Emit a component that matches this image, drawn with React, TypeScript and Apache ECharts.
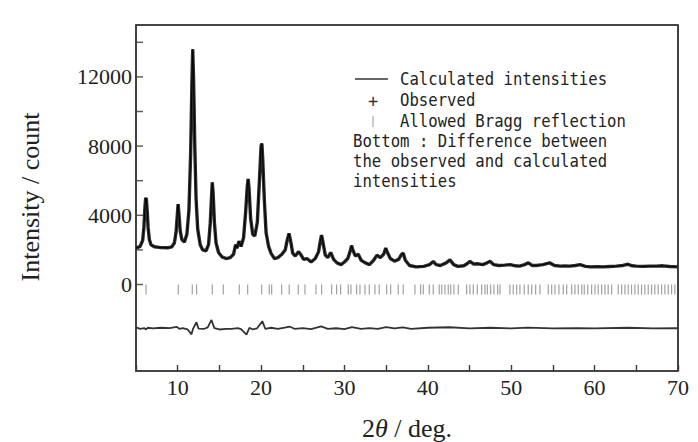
import React, { useEffect, useRef } from "react";
import * as echarts from "echarts";

// Observed intensity profile [2θ (deg), intensity (count)]
const observed: [number, number][] = [
  [5.0, 2100], [5.5, 2200], [5.8, 2550], [5.95, 3300], [6.05, 4300], [6.15, 4950], [6.2, 5000],
  [6.25, 4900], [6.35, 4200], [6.45, 3300], [6.6, 2600], [6.8, 2300], [7.2, 2180], [8.0, 2130],
  [8.8, 2120], [9.3, 2180], [9.6, 2400], [9.8, 3000], [9.95, 4000], [10.05, 4650], [10.15, 4100],
  [10.3, 3100], [10.5, 2600], [10.8, 2450], [11.1, 2900], [11.35, 4300], [11.55, 7500], [11.7, 11500],
  [11.8, 13600], [11.9, 12000], [12.05, 8000], [12.2, 5000], [12.4, 3200], [12.7, 2300], [13.0, 2000],
  [13.4, 1950], [13.7, 2300], [13.9, 3500], [14.05, 5000], [14.15, 5900], [14.25, 5300], [14.4, 3600],
  [14.6, 2400], [14.9, 1850], [15.3, 1600], [15.8, 1500], [16.3, 1550], [16.7, 1750], [16.95, 2300],
  [17.1, 2100], [17.35, 2500], [17.6, 2200], [17.9, 2700], [18.15, 4200], [18.35, 5700], [18.45, 6100],
  [18.55, 5600], [18.75, 3800], [19.0, 2900], [19.25, 2800], [19.55, 3600], [19.8, 6000], [20.0, 8000],
  [20.1, 8150], [20.2, 7200], [20.4, 4800], [20.6, 3000], [20.9, 2200], [21.2, 1800], [21.6, 1500],
  [22.0, 1550], [22.5, 1750], [22.9, 2000], [23.15, 2600], [23.35, 2950], [23.55, 2500], [23.8, 1800],
  [24.1, 1650], [24.5, 1900], [24.8, 1700], [25.1, 1450], [25.5, 1500], [26.0, 1300], [26.5, 1500],
  [26.9, 1900], [27.1, 2500], [27.25, 2850], [27.4, 2500], [27.7, 1700], [28.0, 1550], [28.35, 1850],
  [28.7, 1450], [29.1, 1250], [29.6, 1150], [30.0, 1300], [30.4, 1500], [30.7, 1950], [30.85, 2250],
  [31.0, 2000], [31.3, 1650], [31.65, 1750], [32.0, 1400], [32.5, 1250], [33.0, 1150], [33.5, 1400],
  [33.9, 1700], [34.3, 1550], [34.7, 1750], [34.95, 2100], [35.15, 1850], [35.5, 1500], [36.0, 1350],
  [36.5, 1450], [36.85, 1750], [37.05, 1800], [37.3, 1400], [37.8, 1100], [38.6, 1020], [39.5, 1050],
  [40.2, 1150], [40.65, 1330], [41.0, 1150], [41.5, 1100], [42.2, 1250], [42.65, 1420], [43.1, 1150],
  [43.6, 1050], [44.3, 1080], [44.7, 1200], [45.05, 1340], [45.5, 1180], [45.9, 1200], [46.6, 1150],
  [47.1, 1250], [47.45, 1340], [47.9, 1150], [48.5, 1100], [49.2, 1120], [49.9, 1150], [50.5, 1080],
  [51.0, 1060], [51.6, 1150], [52.05, 1250], [52.5, 1100], [53.0, 1100], [53.8, 1150], [54.6, 1250],
  [55.2, 1100], [55.9, 1060], [56.5, 1070], [57.0, 1060], [57.7, 1100], [58.25, 1150], [58.9, 1050],
  [59.5, 1020], [60.3, 1030], [61.0, 1020], [61.8, 1040], [62.6, 1060], [63.4, 1100], [64.0, 1170],
  [64.5, 1080], [65.0, 1060], [65.8, 1050], [66.6, 1060], [67.4, 1060], [68.2, 1080], [69.0, 1040],
  [70.0, 1020],
];

// Difference curve (observed - calculated), drawn with an offset below zero
const difference: [number, number][] = [
  [5.0, -2480], [5.5, -2560], [6.0, -2520], [6.2, -2600], [6.4, -2500], [7.0, -2540], [8.0, -2500],
  [9.0, -2520], [9.9, -2450], [10.2, -2560], [10.6, -2520], [11.2, -2600], [11.65, -2880], [11.85, -2550],
  [12.25, -2180], [12.5, -2550], [13.2, -2560], [13.6, -2480], [14.05, -2050], [14.4, -2520], [15.0, -2600],
  [15.8, -2570], [16.5, -2560], [17.2, -2520], [17.6, -2580], [18.25, -2900], [18.6, -2500], [19.0, -2600],
  [19.5, -2540], [20.15, -2120], [20.5, -2560], [21.2, -2500], [22.0, -2560], [23.0, -2480], [23.4, -2430],
  [24.0, -2560], [25.0, -2520], [26.0, -2580], [27.2, -2420], [28.0, -2560], [29.0, -2530], [30.0, -2580],
  [30.9, -2460], [32.0, -2560], [33.0, -2520], [34.0, -2560], [35.0, -2460], [36.0, -2540], [37.0, -2480],
  [38.0, -2560], [40.0, -2500], [42.6, -2470], [45.0, -2540], [47.5, -2500], [50.0, -2540], [52.0, -2490],
  [55.0, -2540], [58.0, -2520], [60.0, -2540], [64.0, -2500], [67.0, -2540], [70.0, -2530],
];

// Allowed Bragg reflection positions (2θ, deg)
const braggPositions: number[] = [
  6.2, 10.07, 11.75, 12.27, 14.15, 15.47, 17.39, 18.39, 20.07, 20.98, 21.27, 22.47, 23.38, 24.46, 25.26,
  26.58, 27.26, 28.46, 29.06, 29.54, 30.46, 30.78, 31.46, 31.86, 32.46, 32.98, 33.66, 34.17, 35.06, 35.54,
  36.45, 37.05, 38.45, 39.13, 39.45, 40.17, 40.65, 41.37, 41.66, 42.05, 42.45, 42.74, 43.13, 43.65, 44.65,
  45.05, 45.45, 45.93, 46.45, 46.85, 47.13, 47.53, 47.93, 48.37, 48.65, 49.84, 50.24, 50.65, 51.04, 51.56,
  52.04, 52.45, 52.93, 53.44, 54.44, 54.85, 55.24, 55.72, 56.24, 56.65, 57.25, 57.64, 58.04, 58.45, 58.76,
  59.17, 59.64, 60.04, 60.43, 60.84, 61.24, 61.63, 62.04, 62.83, 63.24, 63.64, 64.03, 64.43, 64.83, 65.23,
  65.63, 66.03, 66.43, 66.83, 67.22, 67.62, 68.03, 68.43, 68.83, 69.23, 69.62,
];
const braggLevel = -290;

const xMin = 5;
const xMax = 70;
const xStep = 5;
const xLabelStep = 10;
const yMin = -5000;
const yMax = 15000;
const yStep = 1000;
const yLabelStep = 4000;
const yTickValues = [0, 2000, 4000, 6000, 8000, 10000, 12000, 14000];

const legendRows = ["Calculated intensities", "Observed", "Allowed Bragg reflection"];
const noteRows = ["Bottom : Difference between", "the observed and calculated", "intensities"];

const SERIF = "Liberation Serif";
const MONO = "DejaVu Sans Mono";
const FRAME = "#3a3a3a";

export default function App() {
  const ref = useRef<HTMLDivElement>(null);

  useEffect(() => {
    if (!ref.current) return;
    const chart = echarts.init(ref.current, undefined, { renderer: "svg" });

    // calculated profile coincides with the observed one at this scale
    const calculated = observed.map((p) => [p[0], p[1]]);

    chart.setOption({
      animation: false,
      grid: { left: 136, right: 20, top: 25, bottom: 71 },
      xAxis: {
        type: "value",
        min: xMin,
        max: xMax,
        interval: xStep,
        splitLine: { show: false },
        axisTick: { show: true, inside: true, length: 6, lineStyle: { color: FRAME, width: 1.4 } },
        axisLine: { show: true, onZero: false, lineStyle: { color: FRAME, width: 1.6 } },
        axisLabel: {
          formatter: (v: number) => (v % xLabelStep === 0 ? String(v) : ""),
          fontFamily: SERIF,
          fontSize: 22,
          color: "#222",
          margin: 5,
        },
      },
      yAxis: {
        type: "value",
        min: yMin,
        max: yMax,
        interval: yStep,
        splitLine: { show: false },
        axisTick: { show: false },
        axisLine: { show: true, onZero: false, lineStyle: { color: FRAME, width: 1.6 } },
        axisLabel: {
          formatter: (v: number) => (v >= 0 && v % yLabelStep === 0 ? String(v) : ""),
          fontFamily: SERIF,
          fontSize: 22,
          color: "#222",
          margin: 4,
        },
      },
      series: [
        {
          name: "Observed",
          type: "line",
          data: observed,
          symbol: "none",
          lineStyle: { color: "#2e2e2e", width: 3.4 },
        },
        {
          name: "Calculated intensities",
          type: "line",
          data: calculated,
          symbol: "none",
          lineStyle: { color: "#000", width: 1 },
        },
        {
          name: "Allowed Bragg reflection",
          type: "scatter",
          data: braggPositions.map((p) => [p, braggLevel]),
          symbol: "rect",
          symbolSize: [1.2, 10],
          itemStyle: { color: "#8a8a8a" },
        },
        {
          name: "Difference",
          type: "line",
          data: difference,
          symbol: "none",
          lineStyle: { color: "#333", width: 1.8 },
        },
        {
          name: "yTicks",
          type: "scatter",
          data: yTickValues.map((v) => [xMin, v]),
          symbol: "rect",
          symbolSize: [7, 1.5],
          symbolOffset: [3.5, 0],
          itemStyle: { color: FRAME },
          clip: false,
        },
        {
          name: "frame",
          type: "line",
          data: [[xMin, yMax], [xMax, yMax], [xMax, yMin]],
          symbol: "none",
          lineStyle: { color: FRAME, width: 1.6 },
          clip: false,
        },
      ],
    });

    const tl = chart.convertToPixel({ gridIndex: 0 }, [xMin, yMax]) as number[];
    const br = chart.convertToPixel({ gridIndex: 0 }, [xMax, yMin]) as number[];

    const monoText = (text: string, x: number, y: number) => ({
      type: "text",
      x,
      y,
      scaleX: 0.92,
      style: { text, fontFamily: MONO, fontSize: 17, fill: "#222", verticalAlign: "middle", align: "left" },
    });

    chart.setOption({
      graphic: [
        {
          type: "rect",
          shape: { x: tl[0], y: tl[1], width: br[0] - tl[0], height: br[1] - tl[1] },
          style: { fill: "none", stroke: FRAME, lineWidth: 1.6 },
          silent: true,
        },
        { type: "line", shape: { x1: 355, y1: 79, x2: 388, y2: 79 }, style: { stroke: "#333", lineWidth: 1.5 } },
        { type: "text", x: 373, y: 101, style: { text: "+", fontFamily: MONO, fontSize: 17, fill: "#333", align: "center", verticalAlign: "middle" } },
        { type: "line", shape: { x1: 373, y1: 116, x2: 373, y2: 127 }, style: { stroke: "#aaa", lineWidth: 1.2 } },
        ...legendRows.map((t, i) => monoText(t, 400, 79 + i * 21)),
        ...noteRows.map((t, i) => monoText(t, 353, 141 + i * 20)),
        {
          type: "text",
          x: 30,
          y: 197,
          rotation: Math.PI / 2,
          style: { text: "Intensity / count", fontFamily: SERIF, fontSize: 26, fill: "#222", align: "center", verticalAlign: "middle" },
        },
        {
          type: "text",
          x: 407,
          y: 428,
          style: {
            text: "{a|2}{b|θ}{a| / deg.}",
            align: "center",
            verticalAlign: "middle",
            rich: {
              a: { fontFamily: SERIF, fontSize: 26, fill: "#222" },
              b: { fontFamily: SERIF, fontSize: 26, fontStyle: "italic", fill: "#222" },
            },
          },
        },
      ],
    });

    return () => chart.dispose();
  }, []);

  return (
    <div
      ref={ref}
      style={{ position: "fixed", left: 0, top: 0, width: 698, height: 442, background: "#fff" }}
    />
  );
}
